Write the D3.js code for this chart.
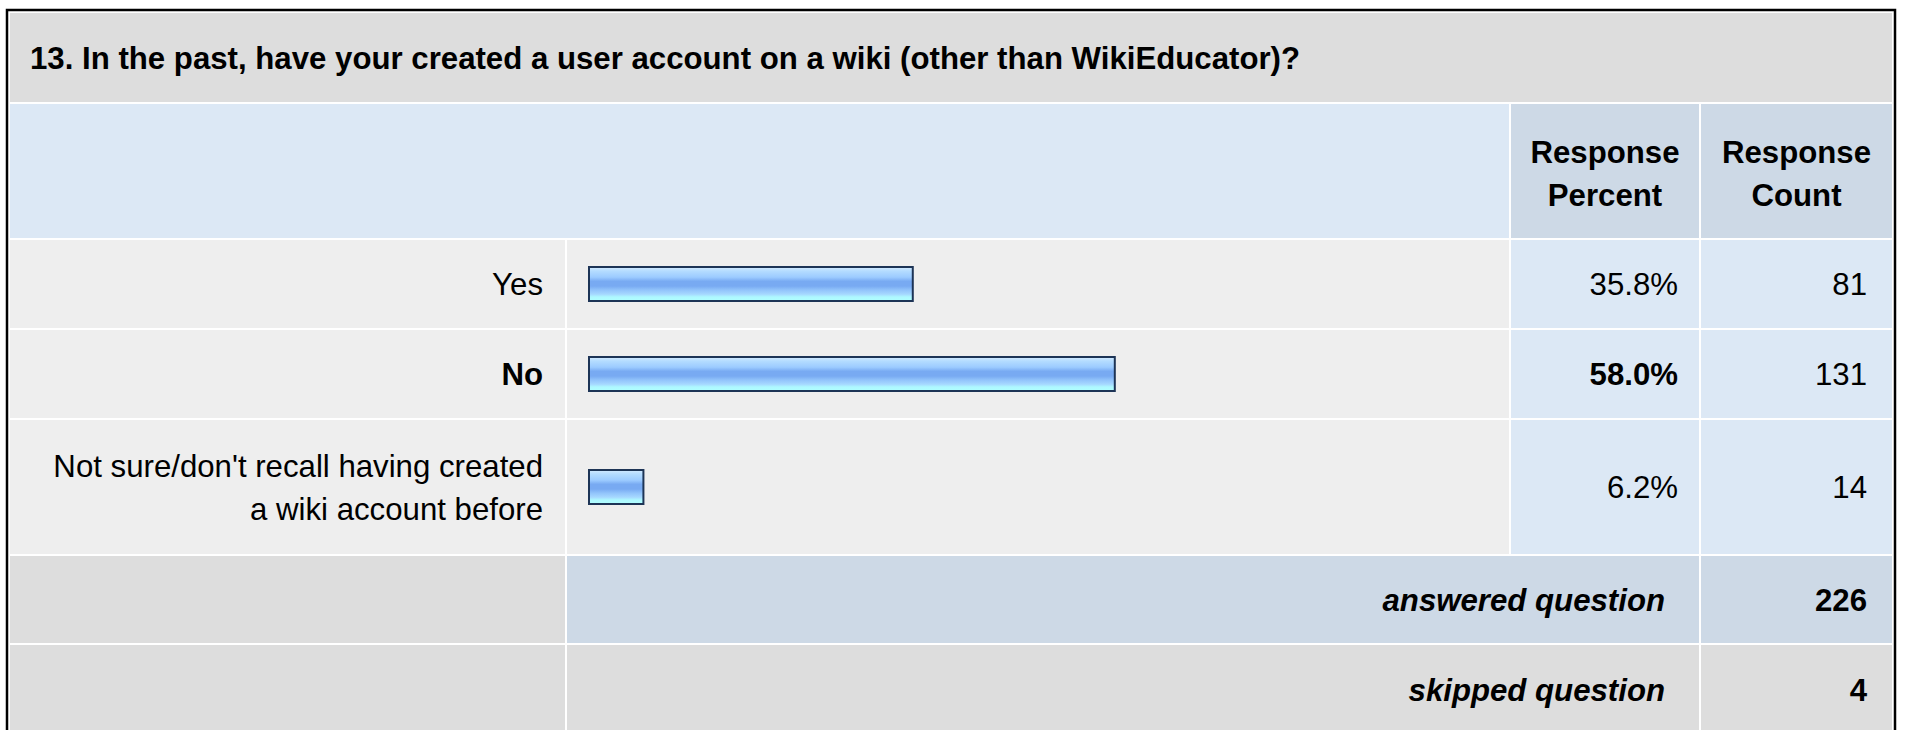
<!DOCTYPE html>
<html>
<head>
  <meta charset="utf-8"/>
  <style>
    body { margin: 0; background: #ffffff; }
    svg { display: block; font-family: 'Liberation Sans', Arial, sans-serif; }
  </style>
</head>
<body>
  <div id="survey_table"></div>
  <script src="https://d3js.org/d3.v7.min.js"></script>
  <script>
    let question = '13. In the past, have your created a user account on a wiki (other than WikiEducator)?';
    let answers = [
      ['Yes'],
      ['No'],
      ["Not sure/don't recall having created", 'a wiki account before']
    ];
    let percents = [35.8, 58.0, 6.2];
    let counts = [81, 131, 14];
    let headers = [['Response', 'Percent'], ['Response', 'Count']];
    let totalLabels = ['answered question', 'skipped question'];
    let totalValues = [226, 4];

    let width = 1907,
        height = 730,
        fontSize = 31.2,
        lineGap = 43,
        gap = 2;

    // columns
    let col = {
      label: {x: 10, w: 555},
      bar: {x: 567, w: 942},
      pct: {x: 1511, w: 188},
      cnt: {x: 1701, w: 191}
    };

    let svg = d3.select('#survey_table')
        .append('svg')
        .attr('width', width)
        .attr('height', height);

    let defs = svg.append('defs');
    let grad = defs.append('linearGradient')
        .attr('id', 'barGrad')
        .attr('x1', 0).attr('y1', 0).attr('x2', 0).attr('y2', 1);
    [['0', '#d4ebff'], ['0.12', '#b4dcff'], ['0.3', '#9ccbff'], ['0.42', '#78aaf2'],
     ['0.56', '#78aaf2'], ['0.68', '#92c4fb'], ['0.8', '#a6d8ff'], ['0.88', '#aef8ff'], ['1', '#b0ffff']]
      .forEach(function (s) {
        grad.append('stop').attr('offset', s[0]).attr('stop-color', s[1]);
      });

    function cell(x, y, w, h, fill) {
      svg.append('rect')
          .attr('x', x).attr('y', y)
          .attr('width', w).attr('height', h)
          .attr('fill', fill);
    }

    function text(lines, x, yMid, anchor, weight, style) {
      let t = svg.append('text')
          .attr('text-anchor', anchor)
          .attr('font-size', fontSize)
          .attr('font-weight', weight || 'normal')
          .attr('font-style', style || 'normal')
          .attr('fill', '#000');
      let first = yMid + 11 - (lines.length - 1) * lineGap / 2;
      lines.forEach(function (l, i) {
        t.append('tspan').attr('x', x).attr('y', first + i * lineGap).text(l);
      });
    }

    // outer frame
    svg.append('rect')
        .attr('x', 7).attr('y', 10)
        .attr('width', 1888).attr('height', 730)
        .attr('fill', 'none')
        .attr('stroke', '#000')
        .attr('stroke-width', 2.5);

    // title row
    let y = 13, titleH = 89;
    cell(col.label.x, y, col.cnt.x + col.cnt.w - col.label.x, titleH, '#dddddd');
    text([question], 30, y + titleH / 2, 'start', 'bold');
    y += titleH + gap;

    // header row
    let headH = 134;
    cell(col.label.x, y, col.pct.x - gap - col.label.x, headH, '#dce8f5');
    cell(col.pct.x, y, col.pct.w, headH, '#cdd9e6');
    cell(col.cnt.x, y, col.cnt.w, headH, '#cdd9e6');
    text(headers[0], col.pct.x + col.pct.w / 2, y + headH / 2 + 2, 'middle', 'bold');
    text(headers[1], col.cnt.x + col.cnt.w / 2, y + headH / 2 + 2, 'middle', 'bold');
    y += headH + gap;

    let xBar = d3.scaleLinear()
        .domain([0, 100])
        .range([col.bar.x + 21, col.bar.x + 21 + 910]);

    let maxPct = d3.max(percents);

    answers.forEach(function (lines, i) {
      let h = 42 + lines.length * 46;
      let mid = y + h / 2;
      let bold = percents[i] === maxPct ? 'bold' : 'normal';
      cell(col.label.x, y, col.label.w, h, '#eeeeee');
      cell(col.bar.x, y, col.bar.w, h, '#eeeeee');
      cell(col.pct.x, y, col.pct.w, h, '#dce8f5');
      cell(col.cnt.x, y, col.cnt.w, h, '#dce8f5');

      svg.append('rect')
          .attr('x', xBar(0) + 1)
          .attr('y', mid - 17)
          .attr('width', xBar(percents[i]) - xBar(0) - 2)
          .attr('height', 34)
          .attr('fill', 'url(#barGrad)')
          .attr('stroke', '#1d3456')
          .attr('stroke-width', 2);

      text(lines, col.label.x + col.label.w - 22, mid, 'end', bold);
      text([percents[i].toFixed(1) + '%'], col.pct.x + col.pct.w - 21, mid, 'end', bold);
      text([String(counts[i])], col.cnt.x + col.cnt.w - 25, mid, 'end');
      y += h + gap;
    });

    // totals
    let totH = [87, 90];
    let totFill = [['#dddddd', '#cdd9e6', '#cdd9e6'], ['#dddddd', '#dddddd', '#dddddd']];
    totalLabels.forEach(function (lab, i) {
      let h = totH[i];
      cell(col.label.x, y, col.label.w, h, totFill[i][0]);
      cell(col.bar.x, y, col.pct.x + col.pct.w - col.bar.x, h, totFill[i][1]);
      cell(col.cnt.x, y, col.cnt.w, h, totFill[i][2]);
      text([lab], col.pct.x + col.pct.w - 34, y + h / 2, 'end', 'bold', 'italic');
      text([String(totalValues[i])], col.cnt.x + col.cnt.w - 25, y + h / 2, 'end', 'bold');
      y += h + gap;
    });
  </script>
</body>
</html>
